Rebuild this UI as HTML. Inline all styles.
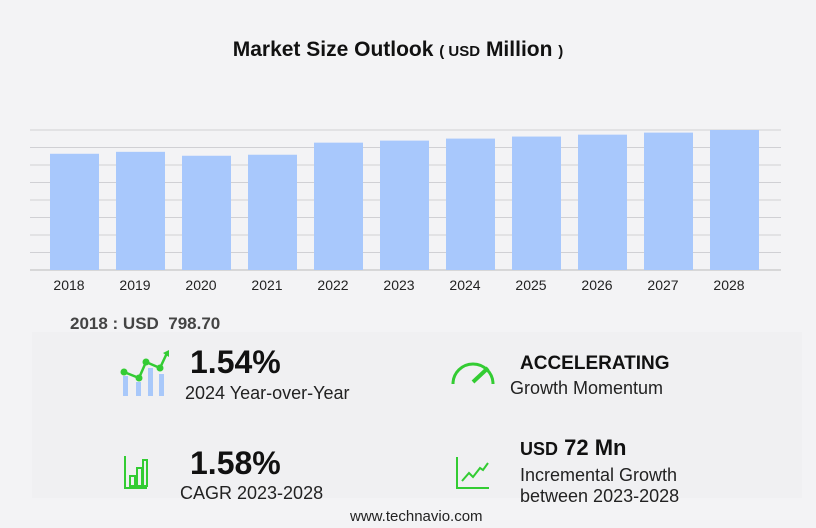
<!DOCTYPE html>
<html><head><meta charset="utf-8"><style>
body{margin:0;width:816px;height:528px;background:#f3f3f5;font-family:"Liberation Sans","DejaVu Sans",sans-serif;position:relative;overflow:hidden}
.a{position:absolute;white-space:nowrap}
</style></head><body>
<div class="a" style="left:0;width:796px;top:38px;text-align:center;font-size:21px;font-weight:bold;color:#111">Market Size Outlook <span style="font-size:15px">( USD</span> Million <span style="font-size:15px">)</span></div>
<svg class="a" style="left:0;top:0" width="816" height="300"><g id="g"></g></svg>
<div class="a" style="left:70px;top:314px;font-size:17px;font-weight:bold;color:#444">2018 : USD&nbsp; 798.70</div>
<div class="a" style="left:32px;top:332px;width:770px;height:166px;background:#f0f0f2"></div>
<svg class="a" style="left:118px;top:348px" width="54" height="50">
<rect x="5" y="28" width="5" height="20" fill="#a8c8fa"/><rect x="18" y="34" width="5" height="14" fill="#a8c8fa"/><rect x="30" y="20" width="5" height="28" fill="#a8c8fa"/><rect x="41" y="26" width="5" height="22" fill="#a8c8fa"/>
<polyline points="6,24 21,30 28,14 42,20 49,5" fill="none" stroke="#3c3" stroke-width="2.5"/><circle cx="6" cy="24" r="3.5" fill="#3c3"/><circle cx="21" cy="30" r="3.5" fill="#3c3"/><circle cx="28" cy="14" r="3.5" fill="#3c3"/><circle cx="42" cy="20" r="3.5" fill="#3c3"/><polygon points="45,5 51,2 51,9" fill="#3c3"/></svg>
<div class="a" style="left:190px;top:344px;font-size:32px;font-weight:bold;color:#111">1.54%</div>
<div class="a" style="left:185px;top:383px;font-size:18px;color:#222">2024 Year-over-Year</div>
<svg class="a" style="left:450px;top:358px" width="46" height="28"><path d="M3,26 A20,20 0 0 1 43,26" fill="none" stroke="#3c3" stroke-width="3"/><line x1="23" y1="24" x2="38" y2="10" stroke="#3c3" stroke-width="4"/></svg>
<div class="a" style="left:520px;top:353px;font-size:19px;font-weight:bold;color:#111">ACCELERATING</div>
<div class="a" style="left:510px;top:378px;font-size:18px;color:#222">Growth Momentum</div>
<svg class="a" style="left:123px;top:454px" width="26" height="36"><g fill="none" stroke="#3c3" stroke-width="2"><polyline points="2,2 2,34 24,34"/><rect x="7" y="22" width="5" height="10"/><rect x="14" y="14" width="5" height="18"/><rect x="20" y="6" width="4" height="26"/></g></svg>
<div class="a" style="left:190px;top:445px;font-size:32px;font-weight:bold;color:#111">1.58%</div>
<div class="a" style="left:180px;top:483px;font-size:18px;color:#222">CAGR 2023-2028</div>
<svg class="a" style="left:455px;top:455px" width="36" height="36"><g fill="none" stroke="#3c3" stroke-width="2"><polyline points="2,2 2,33 34,33"/><polyline points="7,26 14,18 18,22 25,13 28,15 33,8"/></g></svg>
<div class="a" style="left:520px;top:435px;font-size:22px;font-weight:bold;color:#111"><span style="font-size:18px">USD</span> 72 Mn</div>
<div class="a" style="left:520px;top:465px;font-size:18px;color:#222;line-height:21px">Incremental Growth<br>between 2023-2028</div>
<div class="a" style="left:350px;top:508px;font-size:15px;color:#222">www.technavio.com</div>
<script>
const categories=["2018","2019","2020","2021","2022","2023","2024","2025","2026","2027","2028"];
const values=[798.7,812,785,792,875,889,903,917,930,944,962];
const yMax=962, gridCount=8;
const g=document.getElementById('g'),NS="http://www.w3.org/2000/svg";
const y0=270,y1=130,x0=30,x1=781;
const y=v=>y0-(v/yMax)*(y0-y1);
const band=66,x=i=>50+i*band;
for(let k=0;k<=gridCount;k++){const l=document.createElementNS(NS,'line');const yy=y(yMax*k/gridCount);
l.setAttribute('x1',x0);l.setAttribute('x2',x1);l.setAttribute('y1',yy);l.setAttribute('y2',yy);l.setAttribute('stroke',k==0?'#bbb':'#d0d0d4');


g.appendChild(l);}
categories.forEach((c,i)=>{const r=document.createElementNS(NS,'rect');
r.setAttribute('x',x(i));r.setAttribute('width',49);r.setAttribute('y',y(values[i]));r.setAttribute('height',y0-y(values[i]));r.setAttribute('fill','#a8c8fc');


g.appendChild(r);
const t=document.createElementNS(NS,'text');t.setAttribute('x',x(i)+19);t.setAttribute('y',290);t.setAttribute('text-anchor','middle');t.setAttribute('font-size','14');t.setAttribute('fill','#222');t.textContent=c;


g.appendChild(t);});
</script>
</body></html>
